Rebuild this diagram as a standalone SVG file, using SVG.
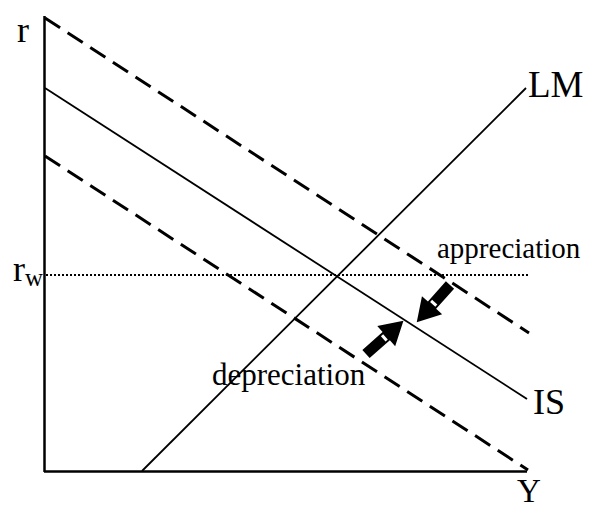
<svg xmlns="http://www.w3.org/2000/svg" width="598" height="511" viewBox="0 0 598 511">
<style>
text{font-family:"Liberation Serif","Times New Roman",serif;fill:#000}
.axis{stroke:#000;stroke-width:2.5;fill:none}
.solid{stroke:#000;stroke-width:1.8;fill:none}
.dash{stroke:#000;stroke-width:3;stroke-dasharray:18 9;fill:none}
.dot{stroke:#000;stroke-width:2;stroke-dasharray:2 2;fill:none}
</style>
<defs>
<g id="blk">
<polygon points="0,-5.5 27,-5.5 27,-13.5 50,0 27,13.5 27,5.5 0,5.5" fill="#000"/>
<rect x="23" y="-3.5" width="3" height="7" fill="#fff"/>
</g>
</defs>
<rect width="598" height="511" fill="#fff"/>
<g id="axes">
<line class="axis" x1="44.5" y1="16" x2="44.5" y2="472"/>
<line class="axis" x1="44" y1="471.5" x2="527" y2="471.5"/>
</g>
<g id="connectors">
<line id="IS-upper" class="dash" x1="45" y1="18" x2="529" y2="333"/>
<line id="IS" class="solid" x1="45" y1="88" x2="527" y2="399"/>
<line id="IS-lower" class="dash" x1="45" y1="156" x2="528" y2="470"/>
<line id="LM" class="solid" x1="142" y1="471" x2="526" y2="88"/>
<line id="rw-line" class="dot" x1="46" y1="275" x2="528" y2="275"/>
<use id="arrow-appreciation" href="#blk" transform="translate(450,285) rotate(131.7)"/>
<use id="arrow-depreciation" href="#blk" transform="translate(366,354) rotate(-41.5)"/>
</g>
<g id="labels">
<text x="17" y="42" font-size="36">r</text>
<text x="13" y="281" font-size="36">r<tspan font-size="25" dy="5">w</tspan></text>
<text x="528" y="97" font-size="37">LM</text>
<text x="533" y="414" font-size="36">IS</text>
<text x="517" y="502" font-size="33">Y</text>
<text x="437" y="258" font-size="29">appreciation</text>
<text x="212" y="385" font-size="31">depreciation</text>
</g>
</svg>
